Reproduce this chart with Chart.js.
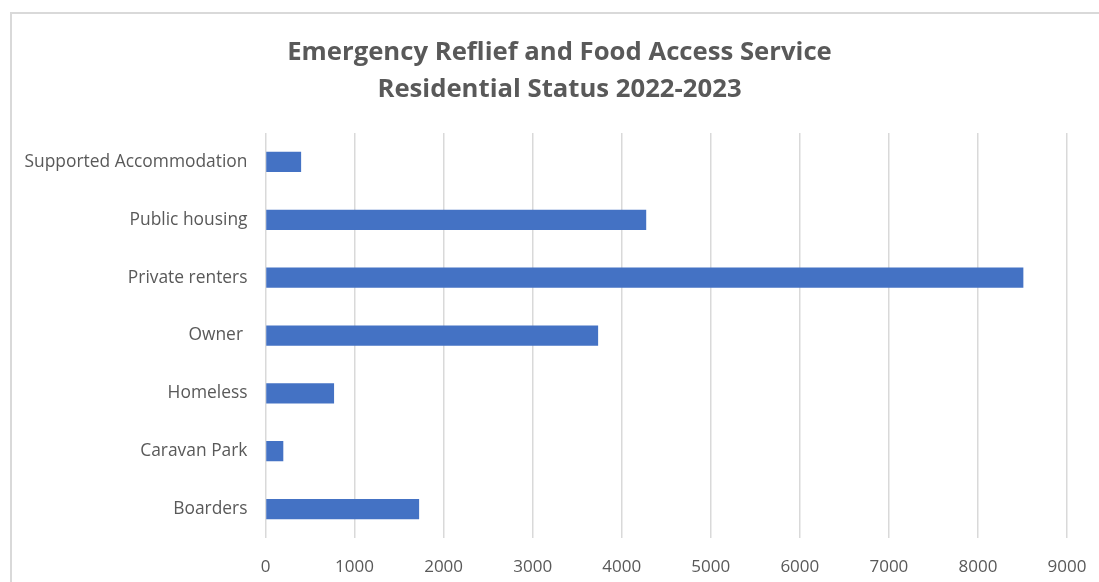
<!DOCTYPE html>
<html>
<head>
<meta charset="utf-8">
<script src="https://cdn.jsdelivr.net/npm/chart.js@4"></script>
<style>
  html, body { margin: 0; padding: 0; background: #fff; overflow: hidden; }
  #wrap { position: relative; width: 1099px; height: 582px; overflow: hidden; }
  #frame { position: absolute; left: 10px; top: 12px; width: 1200px; height: 700px; border: 2px solid #d9d9d9; box-sizing: border-box; }
  canvas { position: absolute; left: 0; top: 0; }
</style>
</head>
<body>
<div id="wrap">
  <div id="frame"></div>
  <canvas id="c" width="1099" height="582"></canvas>
</div>
<script>
const titleLines = ["Emergency Reflief and Food Access Service", "Residential Status 2022-2023"];
const categories = ["Supported Accommodation", "Public housing", "Private renters", "Owner ", "Homeless", "Caravan Park", "Boarders"];
const values = [400, 4275, 8510, 3735, 770, 200, 1725];
const xTicks = [0, 1000, 2000, 3000, 4000, 5000, 6000, 7000, 8000, 9000];

const grey = '#595959';
const fontFamily = "'Open Sans', 'Noto Sans', sans-serif";

new Chart(document.getElementById('c'), {
  type: 'bar',
  data: {
    labels: categories,
    datasets: [{
      data: values,
      backgroundColor: '#4472C4',
      borderWidth: 0,
      categoryPercentage: 0.35,
      barPercentage: 1.0
    }]
  },
  options: {
    indexAxis: 'y',
    responsive: false,
    animation: false,
    layout: { padding: { left: 20, right: 0, top: 0, bottom: 7 } },
    plugins: {
      legend: { display: false },
      tooltip: { enabled: false },
      title: {
        display: true,
        text: titleLines,
        color: grey,
        font: { family: fontFamily, size: 25.7, weight: 'bold', lineHeight: 1.44 },
        padding: { top: 34, bottom: 25 }
      }
    },
    scales: {
      x: {
        min: xTicks[0],
        max: xTicks[xTicks.length - 1],
        afterBuildTicks: s => { s.ticks = xTicks.map(v => ({ value: v })); },
        afterFit: s => { s.height = 37; s.paddingRight = 32; },
        grid: { color: '#d9d9d9', lineWidth: 1.5, drawTicks: false },
        border: { display: false },
        ticks: { color: grey, font: { family: fontFamily, size: 17 }, padding: 19, maxRotation: 0,
                 callback: v => String(v) }
      },
      y: {
        grid: { display: false, drawTicks: false },
        border: { display: false },
        ticks: { color: grey, font: { family: fontFamily, size: 17.4 }, padding: 18 },
        afterFit: s => { s.width = 245.5; }
      }
    }
  }
});
</script>
</body>
</html>
